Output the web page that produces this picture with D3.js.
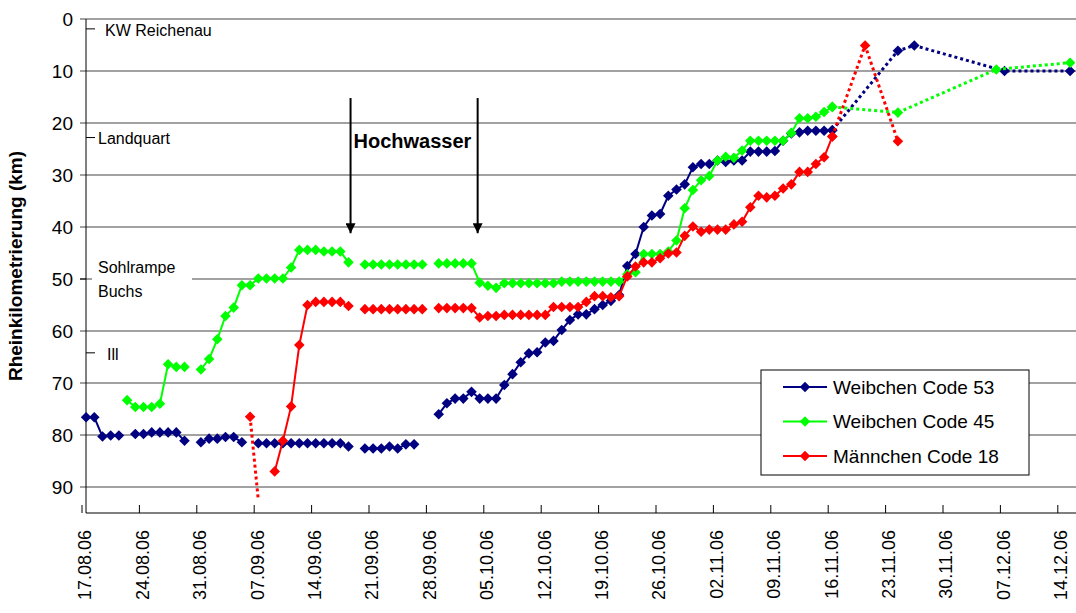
<!DOCTYPE html>
<html>
<head>
<meta charset="utf-8">
<script src="https://cdn.jsdelivr.net/npm/d3@7"></script>
<style>
  body { margin: 0; background: #fff; }
  text { font-family: "Liberation Sans", Arial, sans-serif; }
</style>
</head>
<body>
<div id="app"></div>
<script>
// daily values starting 17.08.2006 (null = no fix that day)
const startDate = "2006-08-17";

const blueDaily = [
  76.6, 76.6, 80.3, 80.1, 80.1, null, 79.8, 79.8, 79.5, 79.5,
  79.5, 79.5, 81.1, null, 81.4, 80.7, 80.7, 80.4, 80.4, 81.4,
  null, 81.6, 81.6, 81.6, 81.6, 81.6, 81.6, 81.6, 81.6, 81.6,
  81.6, 81.6, 82.2, null, 82.6, 82.6, 82.6, 82.2, 82.6, 81.8,
  81.8, null, null, 76.0, 73.9, 73.0, 73.0, 71.7, 73.0, 73.0,
  73.0, 70.4, 68.3, 66.0, 64.3, 64.1, 62.2, 61.9, 59.8, 57.9,
  56.8, 56.8, 55.8, 55.0, 54.2, 53.1, 47.5, 45.2, 40.0, 37.8,
  37.5, 34.0, 32.8, 31.8, 28.5, 27.9, 27.9, 27.2, 27.5, 27.2,
  27.2, 25.5, 25.5, 25.5, 25.4, 23.4, 22.0, 21.8, 21.5, 21.5,
  21.5, 21.4
];
const greenDaily = [
  null, null, null, null, null, 73.3, 74.6, 74.6, 74.6, 74.0,
  66.4, 66.9, 66.9, null, 67.4, 65.4, 61.6, 57.1, 55.5, 51.2,
  51.2, 49.9, 49.9, 49.9, 49.9, 47.8, 44.4, 44.4, 44.4, 44.7,
  44.7, 44.7, 46.8, null, 47.2, 47.2, 47.2, 47.2, 47.2, 47.2,
  47.2, 47.2, null, 47.0, 47.0, 47.0, 47.0, 47.0, 50.7, 51.3,
  51.7, 50.8, 50.8, 50.8, 50.8, 50.8, 50.8, 50.8, 50.5, 50.5,
  50.5, 50.5, 50.5, 50.5, 50.5, 50.5, 49.1, 48.7, 45.2, 45.2,
  45.2, 44.7, 42.6, 36.4, 32.9, 31.0, 30.2, 27.2, 26.5, 26.7,
  25.3, 23.4, 23.4, 23.4, 23.4, 23.4, 21.9, 19.1, 19.1, 18.8,
  17.9, 16.9
];
const redDaily = [
  null, null, null, null, null, null, null, null, null, null,
  null, null, null, null, null, null, null, null, null, null,
  null, null, null, 87.0, 81.1, 74.5, 62.7, 55.0, 54.4, 54.4,
  54.4, 54.4, 55.2, null, 55.8, 55.8, 55.8, 55.8, 55.8, 55.8,
  55.8, 55.8, null, 55.6, 55.6, 55.6, 55.6, 55.6, 57.4, 57.1,
  57.1, 56.9, 56.9, 56.9, 56.9, 56.9, 56.9, 55.4, 55.4, 55.4,
  55.4, 54.4, 53.3, 53.3, 53.5, 53.3, 49.5, 47.6, 46.8, 46.8,
  46.0, 45.1, 44.9, 41.7, 39.9, 40.9, 40.5, 40.5, 40.5, 39.5,
  39.0, 36.2, 34.0, 34.3, 34.0, 32.6, 31.8, 29.4, 29.4, 27.9,
  26.6, 22.6
];

// sparse fixes joined by dotted lines
const blueSparseDates = ["2006-11-16", "2006-11-24", "2006-11-26", "2006-12-07", "2006-12-15"];
const blueSparseValues = [21.4, 6.1, 5.1, 10.0, 10.0];
const greenSparseDates = ["2006-11-16", "2006-11-24", "2006-12-06", "2006-12-15"];
const greenSparseValues = [16.9, 18.0, 9.7, 8.4];
const redSparseDates = ["2006-11-16", "2006-11-20", "2006-11-24"];
const redSparseValues = [22.6, 5.1, 23.5];
const redStrayDates = ["2006-09-06", "2006-09-07"];
const redStrayValues = [76.5, 92.5];
const redStrayMarked = [true, false];

const seriesNames = ["Weibchen Code 53", "Weibchen Code 45", "Männchen Code 18"];
const seriesColors = ["#000080", "#00ff00", "#ff0000"];

const tickDates = ["2006-08-17", "2006-08-24", "2006-08-31", "2006-09-07", "2006-09-14",
  "2006-09-21", "2006-09-28", "2006-10-05", "2006-10-12", "2006-10-19", "2006-10-26",
  "2006-11-02", "2006-11-09", "2006-11-16", "2006-11-23", "2006-11-30", "2006-12-07", "2006-12-14"];
const yTicks = [0, 10, 20, 30, 40, 50, 60, 70, 80, 90];

// river landmarks (km)
const placeNames = ["KW Reichenau", "Landquart", "Sohlrampe|Buchs", "Ill"];
const placeKm = [1.9, 22.8, 50.0, 64.2];

// flood period arrows
const floodDates = ["2006-09-18T18:00", "2006-10-04T06:00"];
const floodKmTop = 15.2, floodKmTip = 41.2;

const W = 1076, H = 613;
const parse = d3.utcParse("%Y-%m-%d");
const parseT = d3.utcParse("%Y-%m-%dT%H:%M");
const start = parse(startDate);

const x = d3.scaleUtc()
  .domain([parse("2006-08-17"), parse("2006-12-14")])
  .range([82, 82 + 119 * 8.2]);
const y = d3.scaleLinear().domain([0, 95]).range([19, 513]);
const left = 86, right = W, bottom = y(95);

const noon = d => d3.utcHour.offset(d, 12);

const svg = d3.select("#app").append("svg")
  .attr("width", W).attr("height", H);

// grid
svg.append("g").selectAll("line").data(yTicks).enter().append("line")
  .attr("x1", left - 6).attr("x2", right)
  .attr("y1", d => y(d)).attr("y2", d => y(d))
  .attr("stroke", "#444").attr("stroke-width", 1);

svg.append("g").selectAll("text").data(yTicks).enter().append("text")
  .attr("x", 73).attr("y", d => y(d)).attr("dy", "0.36em")
  .attr("text-anchor", "end").attr("font-size", 19).text(d => d);

// axes lines
svg.append("line").attr("x1", left).attr("x2", left).attr("y1", y(0)).attr("y2", bottom)
  .attr("stroke", "#000");
svg.append("line").attr("x1", left).attr("x2", right).attr("y1", bottom).attr("y2", bottom)
  .attr("stroke", "#000");

const ticks = tickDates.map(parse);
svg.append("g").selectAll("line").data(ticks).enter().append("line")
  .attr("x1", d => x(d)).attr("x2", d => x(d))
  .attr("y1", bottom).attr("y2", bottom - 8).attr("stroke", "#000");
svg.append("g").selectAll("text").data(ticks).enter().append("text")
  .attr("transform", d => `translate(${x(d) + 3},${bottom + 17}) rotate(-90)`)
  .attr("dy", "0.36em").attr("text-anchor", "end").attr("font-size", 18)
  .text(d3.utcFormat("%d.%m.%y"));

svg.append("text")
  .attr("transform", `translate(22,${(y(0) + bottom) / 2}) rotate(-90)`)
  .attr("text-anchor", "middle").attr("font-size", 19).attr("font-weight", "bold")
  .text("Rheinkilometrierung (km)");

// landmarks
placeNames.forEach((name, i) => {
  const yy = y(placeKm[i]);
  const lines = name.split("|");
  if (lines.length > 1) {
    svg.append("rect").attr("x", 92).attr("y", yy - 22).attr("width", 100).attr("height", 44)
      .attr("fill", "#fff");
    svg.append("line").attr("x1", left - 6).attr("x2", left).attr("y1", yy).attr("y2", yy)
      .attr("stroke", "#000");
    lines.forEach((l, j) => svg.append("text").attr("x", 98).attr("y", yy + (j - 0.5) * 24)
      .attr("dy", "0.36em").attr("font-size", 16).text(l));
  } else {
    svg.append("line").attr("x1", left).attr("x2", left + 9).attr("y1", yy).attr("y2", yy)
      .attr("stroke", "#000");
    svg.append("text").attr("x", i === 0 ? 105 : (i === 3 ? 107 : 98)).attr("y", yy + 1)
      .attr("dy", "0.36em").attr("font-size", 16).text(name);
  }
});

// flood arrows
svg.append("defs").append("marker").attr("id", "arrow")
  .attr("viewBox", "0 0 10 10").attr("refX", 10).attr("refY", 5)
  .attr("markerWidth", 5).attr("markerHeight", 5).attr("orient", "auto")
  .append("path").attr("d", "M0,0L10,5L0,10z").attr("fill", "#000");
floodDates.forEach(ds => {
  const xx = x(parseT(ds));
  svg.append("line").attr("x1", xx).attr("x2", xx)
    .attr("y1", y(floodKmTop)).attr("y2", y(floodKmTip))
    .attr("stroke", "#000").attr("stroke-width", 2).attr("marker-end", "url(#arrow)");
});
svg.append("text").attr("x", x(parseT(floodDates[0])) + 3).attr("y", y(23.4))
  .attr("dy", "0.36em").attr("font-size", 20).attr("font-weight", "bold").text("Hochwasser");

// series
const daily = vals => vals.map((v, i) => ({ date: noon(d3.utcDay.offset(start, i)), v, mark: true }));
const sparse = (ds, vs, marks) => ds.map((d, i) => ({ date: noon(parse(d)), v: vs[i], mark: marks ? marks[i] : true }));

const line = d3.line().defined(d => d.v != null).x(d => x(d.date)).y(d => y(d.v));
const diamond = d3.symbol().type(d3.symbolSquare).size(56);

const seriesData = [
  { solid: daily(blueDaily), dotted: [sparse(blueSparseDates, blueSparseValues)] },
  { solid: daily(greenDaily), dotted: [sparse(greenSparseDates, greenSparseValues)] },
  { solid: daily(redDaily), dotted: [sparse(redSparseDates, redSparseValues), sparse(redStrayDates, redStrayValues, redStrayMarked)] }
];

seriesData.forEach((s, i) => {
  const c = seriesColors[i];
  const g = svg.append("g");
  s.dotted.forEach(pts => g.append("path").datum(pts).attr("d", line)
    .attr("fill", "none").attr("stroke", c).attr("stroke-width", 3).attr("stroke-dasharray", "3 3"));
  g.append("path").datum(s.solid).attr("d", line)
    .attr("fill", "none").attr("stroke", c).attr("stroke-width", 2);
  const pts = s.solid.concat(...s.dotted).filter(d => d.v != null && d.mark);
  g.selectAll("path.m").data(pts).enter().append("path").attr("class", "m")
    .attr("d", diamond)
    .attr("transform", d => `translate(${x(d.date)},${y(d.v)}) rotate(45)`)
    .attr("fill", c);
});

// legend
const lg = svg.append("g").attr("transform", "translate(761,370)");
lg.append("rect").attr("width", 268).attr("height", 105)
  .attr("fill", "#fff").attr("stroke", "#000");
seriesNames.forEach((n, i) => {
  const yy = 17 + i * 34.5;
  lg.append("line").attr("x1", 22).attr("x2", 66).attr("y1", yy).attr("y2", yy)
    .attr("stroke", seriesColors[i]).attr("stroke-width", 2);
  lg.append("path").attr("d", diamond).attr("transform", `translate(44,${yy}) rotate(45)`)
    .attr("fill", seriesColors[i]);
  lg.append("text").attr("x", 72).attr("y", yy).attr("dy", "0.36em")
    .attr("font-size", 19).text(n);
});
</script>
</body>
</html>
